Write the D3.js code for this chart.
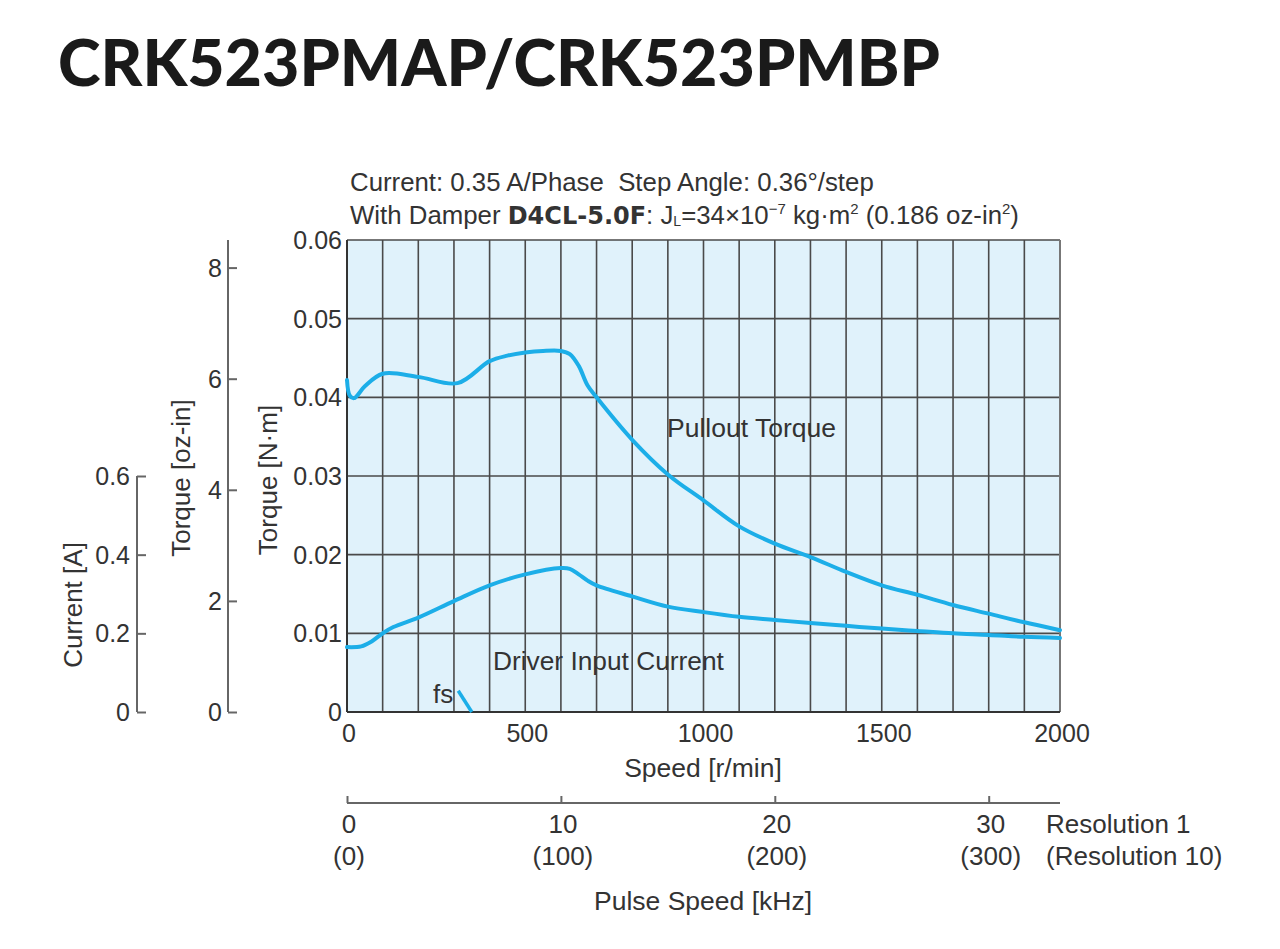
<!DOCTYPE html>
<html>
<head>
<meta charset="utf-8">
<script src="https://cdn.jsdelivr.net/npm/d3@7"></script>
<style>
  body { margin: 0; background: #fff; }
  svg text { font-family: "Liberation Sans", Arial, sans-serif; fill: #333; }
</style>
</head>
<body>
<svg id="chart" width="1280" height="949"></svg>
<script>
// speed [r/min] vs pullout torque [N·m]
var pullSpeed = [0, 8, 20, 50, 100, 200, 310, 400, 450, 500, 550, 600, 625, 650, 675, 700, 800, 900, 1000, 1100, 1200, 1300, 1400, 1500, 1600, 1700, 1800, 1900, 2000];
var pullTorque = [0.0422, 0.0402, 0.0399, 0.0414, 0.0430, 0.0426, 0.0418, 0.0446, 0.0453, 0.0457, 0.0459, 0.0459, 0.0455, 0.0440, 0.0415, 0.0400, 0.0346, 0.0302, 0.0269, 0.0236, 0.0214, 0.0197, 0.0178, 0.0161, 0.0149, 0.0136, 0.0125, 0.0114, 0.0104];

// speed [r/min] vs driver input current [A]
var curSpeed = [0, 40, 70, 100, 130, 200, 300, 400, 500, 600, 625, 650, 675, 700, 800, 900, 1000, 1100, 1200, 1300, 1400, 1500, 1600, 1700, 1800, 1900, 2000];
var curAmp = [0.165, 0.167, 0.180, 0.200, 0.216, 0.240, 0.282, 0.322, 0.350, 0.366, 0.364, 0.350, 0.334, 0.322, 0.294, 0.268, 0.254, 0.242, 0.234, 0.226, 0.219, 0.212, 0.206, 0.200, 0.196, 0.191, 0.188];

// starting pulse speed fs
var fsSpeed = [312, 350];
var fsTorque = [0.0027, 0];

var speedTicks = [0, 500, 1000, 1500, 2000];
var nmTicks = [0, 0.01, 0.02, 0.03, 0.04, 0.05, 0.06];
var ozTicks = [0, 2, 4, 6, 8];
var ampTicks = [0, 0.2, 0.4, 0.6];
var pulseTicks = [0, 10, 20, 30];
var pulseTicks10 = ['(0)', '(100)', '(200)', '(300)'];

var NM_TO_OZIN = 141.612;
var pLeft = 347, pRight = 1060, pTop = 240, pBottom = 712;
var blue = '#1caee8';

var svg = d3.select('#chart');

var x = d3.scaleLinear().domain([0, 2000]).range([pLeft, pRight]);
var yN = d3.scaleLinear().domain([0, 0.06]).range([pBottom, pTop]);
var yOz = d3.scaleLinear().domain([0, 0.06 * NM_TO_OZIN]).range([pBottom, pTop]);
var yA = d3.scaleLinear().domain([0, 1.2]).range([pBottom, pTop]);
var xP = d3.scaleLinear().domain([0, 2000 / 60]).range([pLeft, pRight]);

// title, fit to its width in the picture
var title = svg.append('text')
    .attr('x', 58).attr('y', 86)
    .style('font-family', 'Lato, "DejaVu Sans", sans-serif')
    .style('font-weight', 900)
    .style('font-size', '60px')
    .style('fill', '#1a1a1a')
    .text('CRK523PMAP/CRK523PMBP');
var tw = title.node().getComputedTextLength();
title.style('font-size', (60 * 882 / tw) + 'px');

// header
svg.append('text')
    .attr('x', 350).attr('y', 191)
    .style('font-size', '25.8px')
    .text('Current: 0.35 A/Phase\u00a0\u00a0Step Angle: 0.36\u00b0/step');

var h2 = svg.append('text')
    .attr('x', 350).attr('y', 224)
    .style('font-size', '25.8px');
h2.append('tspan').text('With Damper ');
h2.append('tspan').style('font-family', '"DejaVu Sans", sans-serif').style('font-weight', 'bold').style('font-size', '24px').text('D4CL-5.0F');
h2.append('tspan').text(': J');
h2.append('tspan').style('font-size', '14px').attr('dy', 2).text('L');
h2.append('tspan').attr('dy', -2).text('=34\u00d710');
h2.append('tspan').style('font-size', '15px').attr('dy', -10).text('\u22127');
h2.append('tspan').attr('dy', 10).text(' kg\u00b7m');
h2.append('tspan').style('font-size', '15px').attr('dy', -10).text('2');
h2.append('tspan').attr('dy', 10).text(' (0.186 oz-in');
h2.append('tspan').style('font-size', '15px').attr('dy', -10).text('2');
h2.append('tspan').attr('dy', 10).text(')');

// plot background
svg.append('rect')
    .attr('x', pLeft).attr('y', pTop)
    .attr('width', pRight - pLeft).attr('height', pBottom - pTop)
    .attr('fill', '#e0f2fb');

// grid
var grid = svg.append('g').attr('stroke', '#4a4a4a').attr('stroke-width', 1.6);
grid.selectAll('line.v')
    .data(d3.range(100, 2000, 100))
    .enter().append('line')
    .attr('class', 'v')
    .attr('x1', function (d) { return x(d); })
    .attr('x2', function (d) { return x(d); })
    .attr('y1', pTop).attr('y2', pBottom);
grid.selectAll('line.h')
    .data(nmTicks.slice(1))
    .enter().append('line')
    .attr('class', 'h')
    .attr('x1', pLeft).attr('x2', pRight)
    .attr('y1', function (d) { return yN(d); })
    .attr('y2', function (d) { return yN(d); });

// frame
svg.append('line').attr('x1', pRight).attr('x2', pRight).attr('y1', pTop).attr('y2', pBottom)
    .attr('stroke', '#777').attr('stroke-width', 2);
svg.append('line').attr('x1', pLeft).attr('x2', pLeft).attr('y1', pTop).attr('y2', pBottom)
    .attr('stroke', '#333').attr('stroke-width', 2);
svg.append('line').attr('x1', pLeft).attr('x2', pRight).attr('y1', pBottom).attr('y2', pBottom)
    .attr('stroke', '#333').attr('stroke-width', 2);

// curves
var pullLine = d3.line()
    .x(function (d) { return x(d[0]); })
    .y(function (d) { return yN(d[1]); })
    .curve(d3.curveCatmullRom.alpha(0.5));
var curLine = d3.line()
    .x(function (d) { return x(d[0]); })
    .y(function (d) { return yA(d[1]); })
    .curve(d3.curveCatmullRom.alpha(0.5));

svg.append('path')
    .datum(d3.zip(pullSpeed, pullTorque))
    .attr('d', pullLine)
    .attr('fill', 'none').attr('stroke', blue).attr('stroke-width', 4)
    .attr('stroke-linejoin', 'round').attr('stroke-linecap', 'round');
svg.append('path')
    .datum(d3.zip(curSpeed, curAmp))
    .attr('d', curLine)
    .attr('fill', 'none').attr('stroke', blue).attr('stroke-width', 4)
    .attr('stroke-linejoin', 'round').attr('stroke-linecap', 'round');
svg.append('path')
    .datum(d3.zip(fsSpeed, fsTorque))
    .attr('d', pullLine.curve(d3.curveLinear))
    .attr('fill', 'none').attr('stroke', blue).attr('stroke-width', 3.5);

// in-plot labels
svg.append('text').attr('x', 667).attr('y', 437).style('font-size', '26.5px').text('Pullout Torque');
svg.append('text').attr('x', 493).attr('y', 670).style('font-size', '26.3px').text('Driver Input Current');
svg.append('text').attr('x', 433).attr('y', 703).style('font-size', '26px').text('fs');

// N·m axis labels
svg.selectAll('text.nm')
    .data(nmTicks)
    .enter().append('text')
    .attr('class', 'nm')
    .attr('x', 342)
    .attr('y', function (d) { return yN(d) + 9; })
    .attr('text-anchor', 'end')
    .style('font-size', '25px')
    .text(function (d) { return d === 0 ? '0' : d3.format('.2f')(d); });

// oz-in axis
var ozAxis = svg.append('g').attr('transform', 'translate(228,0)')
    .call(d3.axisRight(yOz).tickValues(ozTicks).tickSize(9).tickFormat(''));
ozAxis.select('.domain').attr('d', 'M0,' + pTop + 'V' + pBottom);
ozAxis.selectAll('path, line').attr('stroke', '#666').attr('stroke-width', 2);
svg.selectAll('text.oz')
    .data(ozTicks)
    .enter().append('text')
    .attr('class', 'oz')
    .attr('x', 222)
    .attr('y', function (d) { return yOz(d) + 9; })
    .attr('text-anchor', 'end')
    .style('font-size', '25px')
    .text(function (d) { return d; });

// current axis
var aAxis = svg.append('g').attr('transform', 'translate(137,0)')
    .call(d3.axisRight(yA).tickValues(ampTicks).tickSize(9).tickFormat(''));
aAxis.select('.domain').attr('d', 'M0,' + yA(0.6) + 'V' + pBottom);
aAxis.selectAll('path, line').attr('stroke', '#666').attr('stroke-width', 2);
svg.selectAll('text.amp')
    .data(ampTicks)
    .enter().append('text')
    .attr('class', 'amp')
    .attr('x', 130)
    .attr('y', function (d) { return yA(d) + 9; })
    .attr('text-anchor', 'end')
    .style('font-size', '25px')
    .text(function (d) { return d === 0 ? '0' : d3.format('.1f')(d); });

// rotated axis titles
function vTitle(cx, cy, txt) {
    svg.append('text')
        .attr('transform', 'translate(' + cx + ',' + cy + ')rotate(-90)')
        .attr('text-anchor', 'middle')
        .style('font-size', '26px')
        .text(txt);
}
vTitle(82, 605, 'Current [A]');
vTitle(190, 478, 'Torque [oz-in]');
vTitle(277, 480, 'Torque [N\u00b7m]');

// speed axis labels
svg.selectAll('text.sp')
    .data(speedTicks)
    .enter().append('text')
    .attr('class', 'sp')
    .attr('x', function (d) { return x(d) + 2; })
    .attr('y', 742)
    .attr('text-anchor', 'middle')
    .style('font-size', '25px')
    .text(function (d) { return d; });
svg.append('text').attr('x', 703).attr('y', 777).attr('text-anchor', 'middle')
    .style('font-size', '26.5px').text('Speed [r/min]');

// pulse speed axis
var pAxis = svg.append('g').attr('transform', 'translate(0,803)')
    .call(d3.axisTop(xP).tickValues(pulseTicks).tickSize(7).tickFormat(''));
pAxis.select('.domain').attr('d', 'M' + pLeft + ',0H' + pRight);
pAxis.selectAll('path, line').attr('stroke', '#666').attr('stroke-width', 2);
svg.selectAll('text.p1')
    .data(pulseTicks)
    .enter().append('text')
    .attr('class', 'p1')
    .attr('x', function (d) { return xP(d) + 2; })
    .attr('y', 833)
    .attr('text-anchor', 'middle')
    .style('font-size', '26px')
    .text(function (d) { return d; });
svg.selectAll('text.p10')
    .data(pulseTicks10)
    .enter().append('text')
    .attr('class', 'p10')
    .attr('x', function (d, i) { return xP(pulseTicks[i]) + 2; })
    .attr('y', 865)
    .attr('text-anchor', 'middle')
    .style('font-size', '26px')
    .text(function (d) { return d; });
svg.append('text').attr('x', 1046).attr('y', 833).style('font-size', '26px').text('Resolution 1');
svg.append('text').attr('x', 1046).attr('y', 865).style('font-size', '26px').text('(Resolution 10)');
svg.append('text').attr('x', 703).attr('y', 910).attr('text-anchor', 'middle')
    .style('font-size', '26.5px').text('Pulse Speed [kHz]');
</script>
</body>
</html>
